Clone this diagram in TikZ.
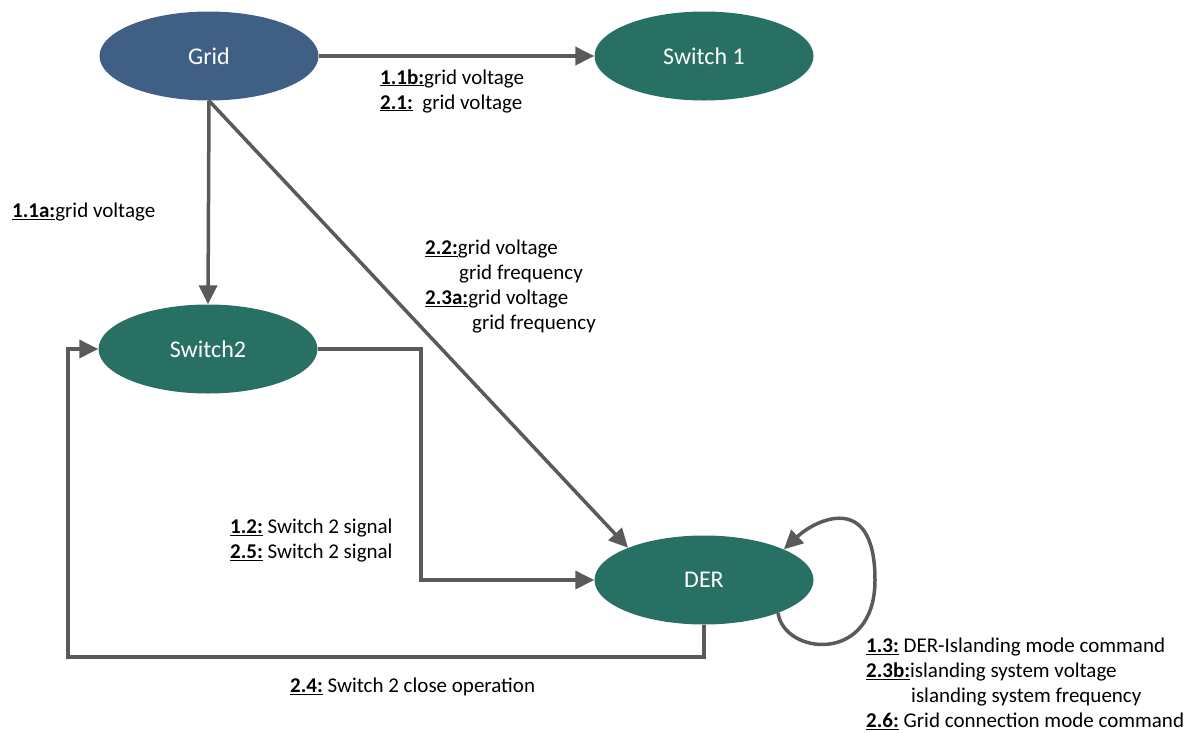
\documentclass[tikz,border=0pt]{standalone}
\usepackage{fontspec}
\setmainfont{Carlito}
\usetikzlibrary{arrows.meta,shapes.geometric}
\definecolor{gridblue}{HTML}{3F5F85}
\definecolor{nodegreen}{HTML}{287064}
\definecolor{wire}{HTML}{5A5A5A}
\newcommand{\tag}[1]{\underline{\textbf{#1}}}
\begin{document}
\begin{tikzpicture}[x=1pt,y=-1pt,
  state/.style={ellipse,minimum width=219pt,minimum height=89pt,inner sep=0pt,
    text=white,font=\fontsize{24}{28}\selectfont},
  arr/.style={draw=wire,line width=3.5pt,
    -{Triangle[length=19pt,width=18pt]}},
  lbl/.style={anchor=west,inner sep=0pt,align=left,
    font=\fontsize{21}{25}\selectfont}]
\useasboundingbox (0,0) rectangle (1184,732);

% states
\node[state,fill=gridblue]  (grid) at (209,56)  {Grid};
\node[state,fill=nodegreen] (sw1)  at (704,56)  {Switch 1};
\node[state,fill=nodegreen] (sw2)  at (208,349) {Switch2};
\node[state,fill=nodegreen] (der)  at (704,580) {DER};

% bends of the routed connectors
\coordinate (bendA) at (421,349);
\coordinate (bendB) at (421,580);
\coordinate (bendC) at (704,657);
\coordinate (bendD) at (68,657);
\coordinate (bendE) at (68,349);

% connectors
\draw[arr] (grid.east) -- (sw1.west);
\draw[arr] (grid.south) -- (sw2.north);
\draw[arr] (grid.south) -- (der.157);
\draw[arr] (sw2.east) -- (bendA) -- (bendB) -- (der.west);
\draw[arr] (der.south) -- (bendC) -- (bendD) -- (bendE) -- (sw2.west);
\draw[arr] (der.-24) .. controls (784,655) and (875,665) .. (875,580)
  .. controls (875,490) and (815,520) .. (der.21);

% labels
\node[lbl] (l1) at (380,91) {\tag{1.1b:}grid voltage\\\tag{2.1:}\ \ grid voltage};
\node[lbl] (l2) at (12,212) {\tag{1.1a:}grid voltage};
\node[lbl] (l3) at (425,287) {\tag{2.2:}grid voltage\\\hspace*{34pt}grid frequency\\
  \tag{2.3a:}grid voltage\\\hspace*{47pt}grid frequency};
\node[lbl] (l4) at (230,540.5) {\tag{1.2:} Switch 2 signal\\\tag{2.5:} Switch 2 signal};
\node[lbl] (l5) at (290,687) {\tag{2.4:} Switch 2 close operation};
\node[lbl] (l6) at (866,684) {\tag{1.3:} DER-Islanding mode command\\
  \tag{2.3b:}islanding system voltage\\\hspace*{45pt}islanding system frequency\\
  \tag{2.6:} Grid connection mode command};
\end{tikzpicture}
\end{document}
